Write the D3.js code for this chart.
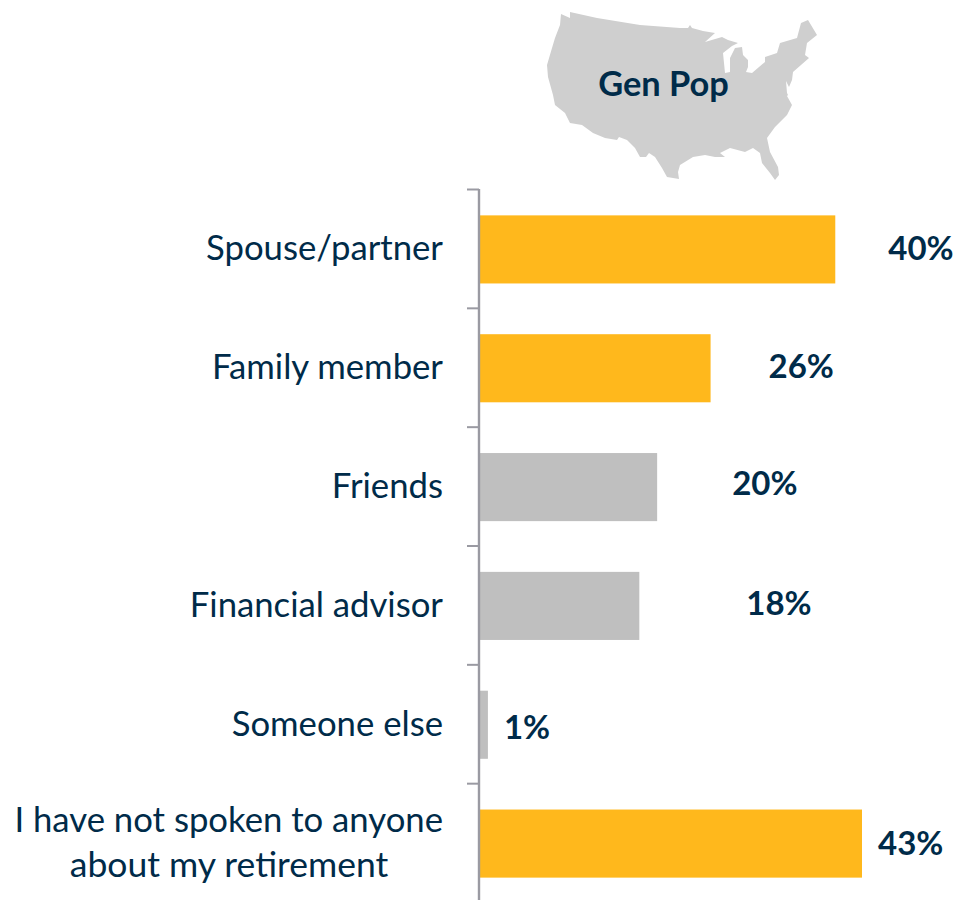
<!DOCTYPE html>
<html>
<head>
<meta charset="utf-8">
<style>
html,body{margin:0;padding:0;background:#fff;}
svg{display:block;}
text{font-family:Lato,"Open Sans",sans-serif;fill:#002b49;}
</style>
<script src="https://cdn.jsdelivr.net/npm/d3@7/dist/d3.min.js"></script>
</head>
<body>
<svg id="chart" width="958" height="900"></svg>
<script>
const categories = ["Spouse/partner","Family member","Friends","Financial advisor","Someone else","I have not spoken to anyone|about my retirement"];
const values = [40,26,20,18,1,43];
const highlighted = [true,true,false,false,false,true];
const mapTitle = "Gen Pop";

// Hand-placed label layout seen in the reference (gap after bar end, vertical nudge)
const labelGap = [53,58,75,107,16,16];
const labelNudge = [0,-1,-3,-2,3,0];

// Decorative US silhouette outline
const mapOutline = [[561,14],[570,18],[570,12],[597,18],[640,25],[680,28],[688,28],[690,25],[692,28],[703,31],[715,33],[705,42],[722,37],[728,40],[738,43],[732,46],[723,53],[725,73],[730,72],[730,58],[735,48],[742,47],[743,55],[748,60],[748,67],[746,72],[752,73],[765,62],[765,57],[777,53],[780,43],[797,38],[801,23],[808,20],[817,35],[807,43],[805,55],[809,58],[793,72],[792,80],[789,87],[786,81],[787,93],[788,95],[787,96],[792,105],[787,115],[775,127],[767,138],[770,152],[778,167],[779,175],[775,180],[770,173],[762,163],[760,153],[753,148],[745,152],[730,148],[720,153],[725,157],[715,157],[705,155],[693,157],[680,165],[678,172],[679,179],[667,177],[662,168],[655,157],[649,153],[646,157],[640,157],[635,148],[627,140],[619,137],[617,140],[605,138],[593,133],[582,125],[570,123],[565,113],[555,105],[553,95],[548,77],[547,65],[552,48],[555,38],[560,25]];

const svg = d3.select("#chart");
const x = d3.scaleLinear().domain([0,43]).range([479,862]);
const y = d3.scaleBand().domain(categories).range([190,903]).paddingInner(0.427).paddingOuter(0.2135);

// map
svg.append("path")
  .attr("d", d3.line().curve(d3.curveLinearClosed)(mapOutline))
  .attr("fill","#cfcfcf");
svg.append("text").attr("x",663.5).attr("y",96).attr("text-anchor","middle")
  .attr("font-size",34.4).attr("font-weight",700).text(mapTitle);

// bars
svg.selectAll("rect.bar").data(values).join("rect").attr("class","bar")
  .attr("x",x(0)).attr("y",(d,i)=>y(categories[i]))
  .attr("width",d=>x(d)-x(0)).attr("height",y.bandwidth())
  .attr("fill",(d,i)=>highlighted[i]?"#ffb81c":"#bfbfbf");

// axis
const axisY = d3.scaleLinear().domain([0,categories.length]).range([189,902]);
const axis = d3.axisLeft(axisY).ticks(categories.length).tickFormat("").tickSize(12);
const gAxis = svg.append("g").attr("transform","translate(479,0)").call(axis);
gAxis.select(".domain").attr("stroke","#9a9aa2").attr("stroke-width",2.4).attr("d","M0,189V902");
gAxis.selectAll(".tick line").attr("stroke","#9a9aa2").attr("stroke-width",2);

// category labels
categories.forEach((c,i)=>{
  const lines = c.split("|");
  const cy = y(c)+y.bandwidth()/2;
  if(lines.length===1){
    svg.append("text").attr("x",443).attr("y",cy+11).attr("text-anchor","end")
      .attr("font-size",34.7).text(c);
  } else {
    svg.append("text").attr("x",443).attr("y",cy-12).attr("text-anchor","end")
      .attr("font-size",34.7).text(lines[0]);
    svg.append("text").attr("x",229).attr("y",cy+33).attr("text-anchor","middle")
      .attr("font-size",35.5).text(lines[1]);
  }
});

// value labels
svg.selectAll("text.val").data(values).join("text").attr("class","val")
  .attr("x",(d,i)=>x(d)+labelGap[i])
  .attr("y",(d,i)=>y(categories[i])+y.bandwidth()/2+11+labelNudge[i])
  .attr("font-size",33).attr("font-weight",700)
  .text(d=>d+"%");
</script>
</body>
</html>
